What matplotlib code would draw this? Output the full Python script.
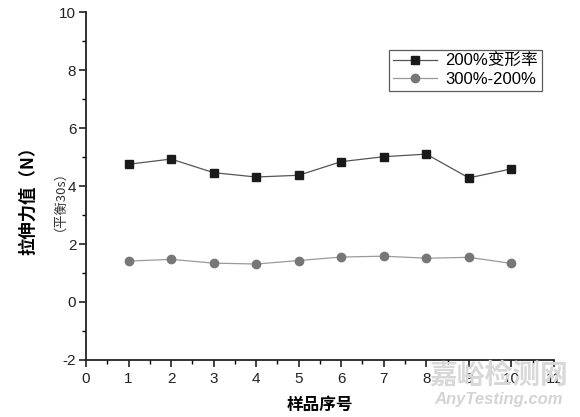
import matplotlib
matplotlib.use("Agg")
import matplotlib.pyplot as plt
from matplotlib.ticker import MultipleLocator

plt.rcParams["font.family"] = ["Liberation Sans", "Noto Sans CJK SC", "DejaVu Sans"]
plt.rcParams["axes.unicode_minus"] = False

samples = [1, 2, 3, 4, 5, 6, 7, 8, 9, 10]
strain_200 = [4.75, 4.93, 4.46, 4.31, 4.37, 4.84, 5.01, 5.10, 4.28, 4.59]
diff_300_200 = [1.41, 1.47, 1.34, 1.31, 1.43, 1.55, 1.58, 1.51, 1.54, 1.33]
labels = ["200%变形率", "300%-200%"]

fig = plt.figure(figsize=(5.8, 4.17), dpi=100)
ax = fig.add_axes([0.1483, 0.1367, 0.8067, 0.8345])

ax.plot(samples, strain_200, color="#555555", lw=0.9, marker="s", ms=5.3,
        mfc="#1a1a1a", mec="#1a1a1a", label=labels[0])
ax.plot(samples, diff_300_200, color="#9a9a9a", lw=0.9, marker="o", ms=6,
        mfc="#777777", mec="#777777", label=labels[1])

ax.set_xlim(0, 11)
ax.set_ylim(-2, 10)
ax.xaxis.set_major_locator(MultipleLocator(1))
ax.xaxis.set_minor_locator(MultipleLocator(0.5))
ax.yaxis.set_major_locator(MultipleLocator(2))
ax.yaxis.set_minor_locator(MultipleLocator(1))
ax.tick_params(which="major", direction="out", length=5, width=1.2, labelsize=11,
               colors="#222222")
ax.tick_params(which="minor", direction="out", length=3, width=1.0)
ax.tick_params(axis="y", pad=2)
for s in ["top", "right"]:
    ax.spines[s].set_visible(False)
for s in ["left", "bottom"]:
    ax.spines[s].set_linewidth(1.3)
    ax.spines[s].set_color("#222222")

ax.set_xlabel("样品序号", fontsize=12, fontweight="bold",
              family=["Noto Sans CJK SC"], labelpad=7)
fig.text(0.048, 0.53, "拉伸力值（N）", rotation=90, fontsize=12.5, fontweight="bold",
         family=["Noto Sans CJK SC"], ha="center", va="center")
fig.text(0.092, 0.535, "（平衡30s）", rotation=90, fontsize=9.5,
         family=["Noto Sans CJK SC", "DejaVu Sans"], ha="center", va="center",
         color="#333333")

leg = ax.legend(loc="upper left", bbox_to_anchor=(0.63, 0.915),
                frameon=True, fancybox=False, edgecolor="#333333",
                handlelength=2.6, borderpad=0.25, labelspacing=0.15,
                handletextpad=0.5,
                prop={"family": ["Liberation Sans", "Noto Sans CJK SC"], "size": 12})
leg.get_frame().set_linewidth(0.9)

# watermark
fig.text(0.859, 0.098, "嘉峪检测网", fontsize=20, fontweight="bold",
         family=["Noto Sans CJK SC"], color="#d8d8d8", ha="center", va="center",
         zorder=0)
fig.text(0.859, 0.043, "AnyTesting.com", fontsize=12, style="italic",
         fontweight="bold", color="#d4d4d4", ha="center", va="center", zorder=0)

fig.savefig("out.png", dpi=100)
